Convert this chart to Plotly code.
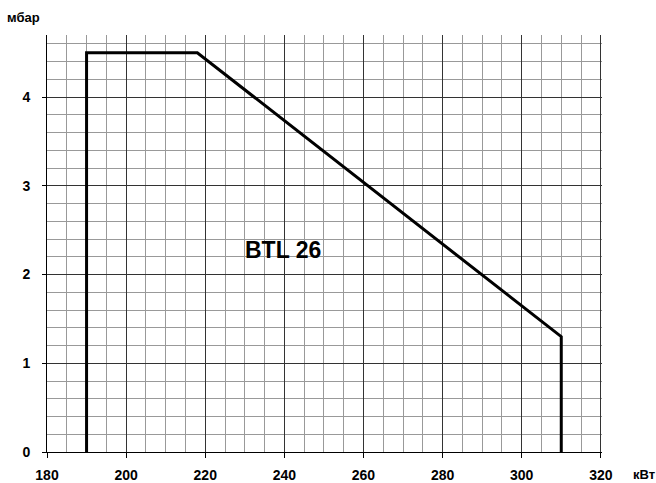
import plotly.graph_objects as go

# Data
power_kw = [190, 190, 218, 310, 310]
pressure_mbar = [0, 4.5, 4.5, 1.3, 0]
label_text = "BTL 26"
label_pos = (239.6, 2.28)
x_ticks = [180, 200, 220, 240, 260, 280, 300, 320]
y_ticks = [0, 1, 2, 3, 4]

FONT = "Liberation Sans, Arial, sans-serif"

fig = go.Figure()
fig.add_trace(go.Scatter(
    x=power_kw, y=pressure_mbar, mode="lines",
    line=dict(color="black", width=3), hoverinfo="skip", showlegend=False,
))

fig.add_annotation(
    x=label_pos[0], y=label_pos[1], text=label_text, showarrow=False,
    font=dict(family=FONT, size=23, color="black", weight="bold"),
    xanchor="center", yanchor="middle",
)

fig.add_annotation(
    xref="paper", yref="paper", x=-0.076, y=1.043, text="мбар", showarrow=False,
    font=dict(family=FONT, size=13, color="black", weight="bold"),
    xanchor="left", yanchor="middle",
)
fig.add_annotation(
    xref="paper", yref="paper", x=1.052, y=-0.053, text="кВт", showarrow=False,
    font=dict(family=FONT, size=13, color="black", weight="bold"),
    xanchor="left", yanchor="middle",
)

fig.update_xaxes(
    range=[180, 320.3], tickvals=x_ticks, ticktext=[str(v) for v in x_ticks],
    showgrid=True, gridcolor="#333", gridwidth=1,
    minor=dict(dtick=5, tick0=180, showgrid=True, gridcolor="#999", gridwidth=1),
    showline=True, linecolor="black", linewidth=1,
    ticks="outside", ticklen=5, tickcolor="black",
    tickfont=dict(family=FONT, size=14, color="black", weight="bold"),
    ticklabelstandoff=5, zeroline=False, automargin=False,
)
fig.update_yaxes(
    range=[0, 4.7], tickvals=y_ticks, ticktext=[str(v) for v in y_ticks],
    showgrid=True, gridcolor="#333", gridwidth=1,
    minor=dict(dtick=0.2, tick0=0, showgrid=True, gridcolor="#999", gridwidth=1),
    showline=True, linecolor="black", linewidth=1,
    ticks="outside", ticklen=4, tickcolor="black",
    tickfont=dict(family=FONT, size=14, color="black", weight="bold"),
    ticklabelstandoff=9, zeroline=False, automargin=False,
)

fig.update_layout(
    width=656, height=483,
    margin=dict(l=47, r=54, t=35, b=31),
    plot_bgcolor="white", paper_bgcolor="white",
    showlegend=False,
)

fig.write_html(
    "out.html",
    config={"displayModeBar": False},
    post_script="document.body.style.margin='0px';document.body.style.overflow='hidden';",
)
